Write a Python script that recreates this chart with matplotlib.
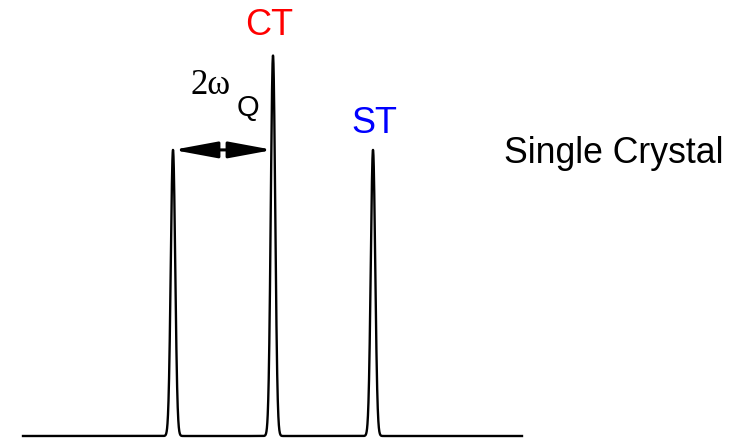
import numpy as np
import matplotlib.pyplot as plt
from matplotlib.patches import FancyArrowPatch

# peak positions (units of omega_Q) and relative heights
peak_pos = [-1.0, 0.0, 1.0]
peak_height = [1.0, 1.33, 1.0]
peak_width = 0.022
x_range = (-2.5, 2.49)

x = np.linspace(x_range[0], x_range[1], 6000)
y = np.zeros_like(x)
for p, h in zip(peak_pos, peak_height):
    y += h * np.exp(-0.5 * ((x - p) / peak_width) ** 2)

fig = plt.figure(figsize=(7.49, 4.38), dpi=100)
ax = fig.add_axes([0, 0, 1, 1])
ax.plot(x, y, color="black", lw=1.7)
ax.set_xlim(-2.73, 4.76)
ax.set_ylim(-0.007, 1.524)
ax.axis("off")

# 2 omega_Q arrow
arr = FancyArrowPatch((peak_pos[0], 1.0), (peak_pos[1], 1.0),
                      arrowstyle="<|-|>,head_length=27,head_width=5",
                      mutation_scale=1, shrinkA=0, shrinkB=0,
                      color="black", lw=2.2)
ax.add_patch(arr)

ax.text(-0.82, 1.195, "2ω", family="Liberation Serif", fontsize=25,
        ha="left", va="baseline")
ax.text(-0.36, 1.12, "Q", family="Liberation Sans", fontsize=21,
        ha="left", va="baseline")

ax.text(-0.04, 1.40, "CT", color="red", family="Liberation Sans",
        fontsize=26, ha="center", va="baseline")
ax.text(1.01, 1.06, "ST", color="blue", family="Liberation Sans",
        fontsize=26, ha="center", va="baseline")
ax.text(2.31, 0.955, "Single Crystal", color="black",
        family="Liberation Sans", fontsize=25.7, ha="left", va="baseline")

fig.savefig("out.png", dpi=100)
